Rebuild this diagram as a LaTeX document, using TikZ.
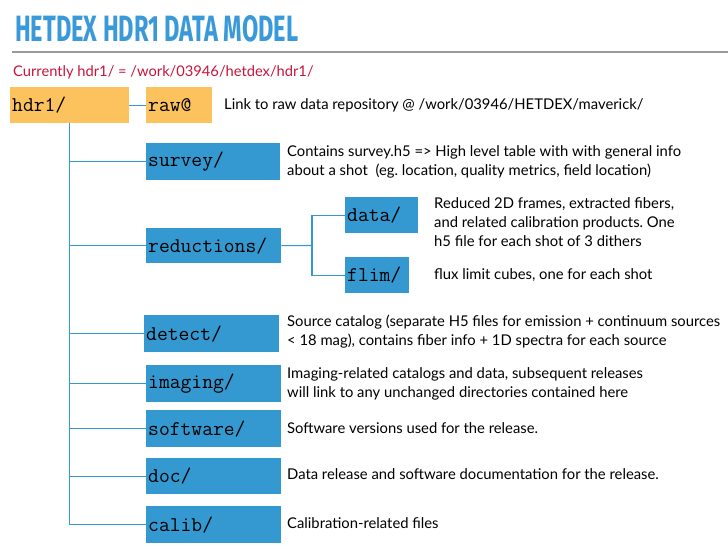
\documentclass[tikz,border=0pt]{standalone}
\usepackage{fontspec}
\setmainfont{Lato}
\newfontfamily\titlefont{Fira Sans}
\frenchspacing
\definecolor{boxblue}{HTML}{3399D0}
\definecolor{boxorange}{HTML}{FBC25E}
\definecolor{titleblue}{HTML}{3A9AD9}
\definecolor{redtxt}{HTML}{C8143C}
\definecolor{rulegray}{HTML}{9A9A9A}
\begin{document}
\begin{tikzpicture}[x=1pt,y=-1pt,
  dirbox/.style={fill=boxblue, anchor=north west, inner xsep=2pt, inner ysep=0pt,
    align=left, font=\ttfamily\fontsize{21}{21}\selectfont, text=black},
  orangebox/.style={dirbox, fill=boxorange},
  desc/.style={anchor=west, align=left, inner sep=0pt, font=\fontsize{14.8}{19}\selectfont, text=black},
  conn/.style={draw=boxblue, line width=1.1pt}]
\useasboundingbox (0,0) rectangle (728,551);
% title
\node[anchor=north west, inner sep=0pt, text=titleblue] (title) at (15,15)
  {\resizebox{283pt}{26pt}{\titlefont\bfseries HETDEX HDR1 DATA MODEL}};
\draw[rulegray, line width=1.3pt] (12,52) -- (728,52);
\node[anchor=base west, inner sep=0pt, text=redtxt, font=\fontsize{14.7}{16}\selectfont] (cur) at (13,77)
  {Currently hdr1/ = /work/03946/hetdex/hdr1/};
% boxes
\node[orangebox, text width=115pt, minimum height=36pt] (hdr) at (10,87) {hdr1/};
\node[orangebox, text width=62pt, minimum height=36pt] (raw) at (146,87) {raw@};
\node[dirbox, text width=130pt, minimum height=37pt] (survey) at (146,143) {survey/};
\node[dirbox, text width=131pt, minimum height=35pt] (red) at (146,228) {reductions/};
\node[dirbox, text width=69pt, minimum height=36pt] (data) at (345,197) {data/};
\node[dirbox, text width=60pt, minimum height=36pt] (flim) at (345,257) {flim/};
\node[dirbox, text width=131pt, minimum height=37pt] (detect) at (144,315) {detect/};
\node[dirbox, text width=131pt, minimum height=37pt] (imaging) at (146,365) {imaging/};
\node[dirbox, text width=131pt, minimum height=37pt] (software) at (146,410) {software/};
\node[dirbox, text width=131pt, minimum height=36pt] (doc) at (146,458) {doc/};
\node[dirbox, text width=131pt, minimum height=37pt] (calib) at (146,506) {calib/};
% connectors
\draw[conn] (hdr.east) -- (raw.west);
\draw[conn] (hdr.south) |- (calib.west);
\foreach \n in {survey,red,detect,imaging,software,doc}
  \draw[conn] (hdr.south |- \n.west) -- (\n.west);
\coordinate (rj) at (312,245.5);
\draw[conn] (red.east) -- (rj);
\draw[conn] (data.west) -| (rj) |- (flim.west);
% descriptions
\node[desc] (draw) at (224,105) {Link to raw data repository @ /work/03946/HETDEX/maverick/};
\node[desc] (dsurvey) at (287,161.5) {Contains survey.h5 => High level table with with general info\\about a shot~ (eg. location, quality metrics, field location)};
\node[desc] (ddata) at (434,222.5) {Reduced 2D frames, extracted fibers,\\and related calibration products. One\\h5 file for each shot of 3 dithers};
\node[desc] (dflim) at (434,275) {flux limit cubes, one for each shot};
\node[desc] (ddetect) at (287,332) {Source catalog (separate H5 files for emission + continuum sources\\< 18 mag), contains fiber info + 1D spectra for each source};
\node[desc] (dimaging) at (287,383.5) {Imaging-related catalogs and data, subsequent releases\\will link to any unchanged directories contained here};
\node[desc] (dsoftware) at (287,428) {Software versions used for the release.};
\node[desc] (ddoc) at (287,474) {Data release and software documentation for the release.};
\node[desc] (dcalib) at (287,523) {Calibration-related files};
\end{tikzpicture}
\end{document}
